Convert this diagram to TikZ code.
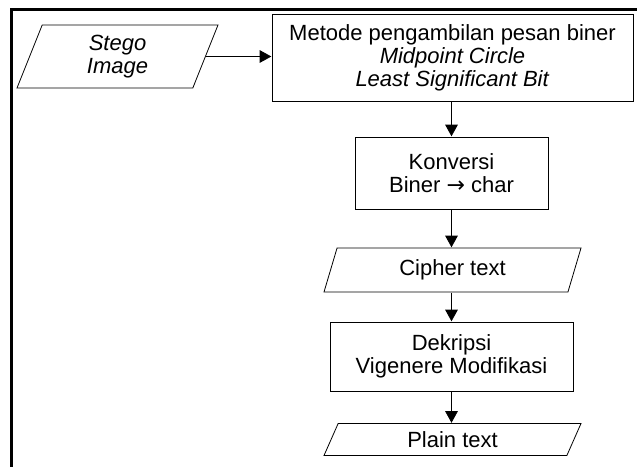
\documentclass[tikz,border=0pt]{standalone}
\usepackage{fontspec}
\setmainfont{Liberation Sans}
\newfontfamily\arrowfont{DejaVu Sans}
\usetikzlibrary{shapes.geometric,arrows.meta}

\begin{document}
\begin{tikzpicture}[x=5pt,y=-5pt]
\tikzset{ >={Triangle[length=6pt,width=6.5pt]}, line width=0.5pt,
  proc/.style={draw, rectangle, align=center, inner sep=0pt,
    font=\fontsize{11}{11.5}\selectfont},
  io/.style={draw, trapezium, trapezium stretches body, align=center,
    inner sep=0pt, font=\fontsize{11}{11.5}\selectfont},
}

\useasboundingbox (0,0) rectangle (63.7,46.7);

%\draw [lightgray, dashed](0,0) grid (63,46);

% frame
\draw [line width=1.5pt] (63.7,0.9) -| (1.1,46.7);

\node [io, trapezium left angle=59.6, trapezium right angle=120.4,
  minimum width=100.5pt, minimum height=31.5pt] (stego) at (11.75,5.65)
  {\itshape Stego\\\itshape Image};

\node [proc, minimum width=180.5pt, minimum height=43.5pt] (metode) at (45.25,5.75)
  {Metode pengambilan pesan biner\\\textit{Midpoint Circle}\\\textit{Least Significant Bit}};
\node [proc, minimum width=96.5pt, minimum height=36pt] (konversi) at (45.15,17.3)
  {Konversi\\Biner {\arrowfont →} char};
\node [io, trapezium left angle=57.5, trapezium right angle=122.5,
  minimum width=128.5pt, minimum height=22pt] (cipher) at (45.25,27.0)
  {Cipher text};
\node [proc, minimum width=121.5pt, minimum height=34.5pt] (dekripsi) at (45.15,35.65)
  {Dekripsi\\Vigenere Modifikasi};
\node [io, trapezium left angle=48.8, trapezium right angle=131.2,
  minimum width=128.5pt, minimum height=16pt] (plain) at (45.25,43.95)
  {Plain text};

\draw [->] (stego.east) -- (stego.east -| metode.west);
\draw [->] (metode.south -| konversi.north) -- (konversi.north);
\draw [->] (konversi) -- (konversi |- cipher.north);
\draw [->] (konversi |- cipher.south) -- (dekripsi.north);
\draw [->] (dekripsi) -- (dekripsi |- plain.north);

\end{tikzpicture}
\end{document}
